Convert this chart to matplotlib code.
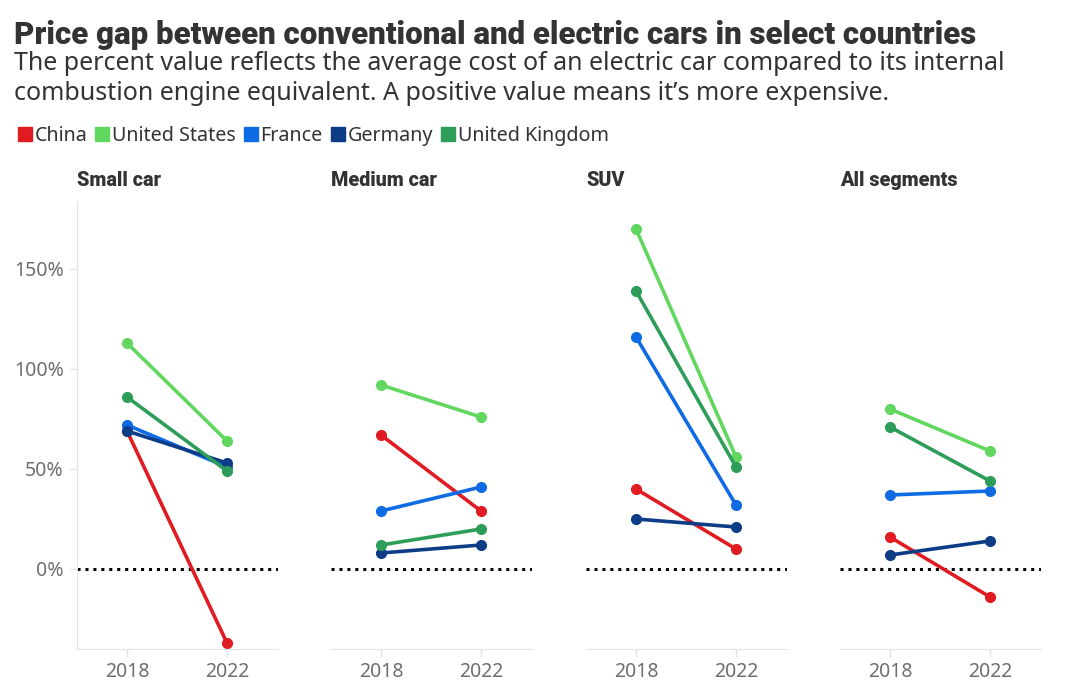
import numpy as np
import matplotlib
matplotlib.use("Agg")
import matplotlib.pyplot as plt
from matplotlib.lines import Line2D

# Data (percent price gap, EV vs ICE)
years = ["2018", "2022"]
segments = ["Small car", "Medium car", "SUV", "All segments"]
countries = ["China", "United States", "France", "Germany", "United Kingdom"]
colors = ["#e01b22", "#62d760", "#0f6be3", "#0d3d87", "#2f9d5a"]

china = [[69, -37], [67, 29], [40, 10], [16, -14]]
united_states = [[113, 64], [92, 76], [170, 56], [80, 59]]
france = [[72, 51], [29, 41], [116, 32], [37, 39]]
germany = [[69, 53], [8, 12], [25, 21], [7, 14]]
united_kingdom = [[86, 49], [12, 20], [139, 51], [71, 44]]

series = [china, united_states, france, germany, united_kingdom]
# draw order (back to front) roughly as in the original
draw_order = [0, 1, 4, 2, 3]

W, H = 1080, 695
fig = plt.figure(figsize=(W / 100, H / 100), dpi=100)
fig.patch.set_facecolor("white")

TXT = "#333333"
GRAY = "#6e6e6e"
AXIS = "#e4e4e4"

fig.text(14 / W, 1 - 35 / H, "Price gap between conventional and electric cars in select countries",
         fontsize=22.5, fontweight="black", family="Roboto", color=TXT, va="center", ha="left")
fig.text(14 / W, 1 - 64 / H, "The percent value reflects the average cost of an electric car compared to its internal",
         fontsize=18, family="Noto Sans", color=TXT, va="center", ha="left")
fig.text(14 / W, 1 - 93 / H, "combustion engine equivalent. A positive value means it\u2019s more expensive.",
         fontsize=18, family="Noto Sans", color=TXT, va="center", ha="left")

handles = [Line2D([], [], marker="s", linestyle="none", markersize=10,
                  markerfacecolor=c, markeredgecolor=c) for c in colors]
fig.legend(handles, countries, loc="center left", bbox_to_anchor=(11 / W, 1 - 136 / H),
           ncol=5, frameon=False, handlelength=0.6, handletextpad=0.2, columnspacing=0.45,
           prop={"family": "Noto Sans", "size": 14.2}, labelcolor=TXT, borderaxespad=0)

lefts = [77, 331, 586, 840]
pw = 201
top, bottom = 202, 649
x = np.arange(len(years))

for i, seg in enumerate(segments):
    ax = fig.add_axes([lefts[i] / W, 1 - bottom / H, pw / W, (bottom - top) / H])
    ax.set_xlim(-0.5, 1.51)
    ax.set_ylim(-40, 183.5)
    ax.axhline(0, color="black", linewidth=2.2, linestyle=(0, (1, 1.6)), zorder=1)
    for j in draw_order:
        ax.plot(x, series[j][i], color=colors[j], linewidth=2.6, marker="o",
                markersize=7, solid_capstyle="round", zorder=2 + j * 0.1)
    ax.set_xticks(x)
    ax.set_xticklabels(years)
    ax.set_yticks([0, 50, 100, 150])
    ax.set_yticklabels(["0%", "50%", "100%", "150%"])
    ax.tick_params(colors=AXIS, labelcolor=GRAY, labelsize=14, length=6, width=1)
    for lab in ax.get_xticklabels() + ax.get_yticklabels():
        lab.set_family("Noto Sans")
    for s in ["top", "right"]:
        ax.spines[s].set_visible(False)
    ax.spines["bottom"].set_color(AXIS)
    ax.spines["left"].set_color(AXIS)
    if i > 0:
        ax.spines["left"].set_visible(False)
        ax.tick_params(axis="y", left=False, labelleft=False)
    fig.text(lefts[i] / W, 1 - 180 / H, seg, fontsize=14.2, fontweight="black",
             family="Roboto", color=TXT, va="center", ha="left")

fig.savefig("out.png", dpi=100, facecolor="white")
